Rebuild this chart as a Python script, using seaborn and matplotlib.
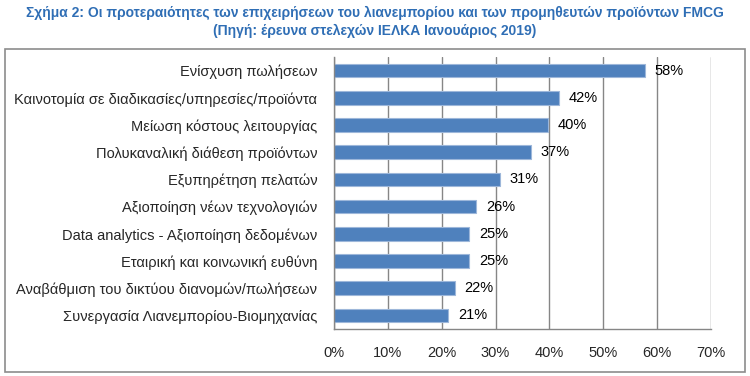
import pandas as pd
import matplotlib.pyplot as plt
import matplotlib.patches as patches
import seaborn as sns

categories = [
    "Ενίσχυση πωλήσεων",
    "Καινοτομία σε διαδικασίες/υπηρεσίες/προϊόντα",
    "Μείωση κόστους λειτουργίας",
    "Πολυκαναλική διάθεση προϊόντων",
    "Εξυπηρέτηση πελατών",
    "Αξιοποίηση νέων τεχνολογιών",
    "Data analytics - Αξιοποίηση δεδομένων",
    "Εταιρική και κοινωνική ευθύνη",
    "Αναβάθμιση του δικτύου διανομών/πωλήσεων",
    "Συνεργασία Λιανεμπορίου-Βιομηχανίας",
]
values = [57.7, 41.8, 39.8, 36.6, 30.8, 26.4, 25.1, 25.1, 22.4, 21.2]
xticks = [0, 10, 20, 30, 40, 50, 60, 70]

df = pd.DataFrame({"cat": categories, "val": values})

sns.set_style("white")
plt.rcParams["font.family"] = ["Liberation Sans", "DejaVu Sans"]

fig = plt.figure(figsize=(7.5, 3.76), dpi=100)
ax = fig.add_axes([0.4453, 0.125, 0.5027, 0.7234])

sns.barplot(data=df, x="val", y="cat", orient="h", color="#4F81BD",
            saturation=1, width=0.5, edgecolor="#9DB7DA", linewidth=0.8, ax=ax)

for i, v in enumerate(values):
    ax.text(v + 1.8, i, f"{v:.0f}%", va="center", ha="left", fontsize=10.5, color="#000000")

ax.set_xlim(0, 70)
ax.set_ylim(9.5, -0.5)
ax.set_xticks(xticks)
ax.set_xticklabels([f"{t}%" for t in xticks], fontsize=10.5)
ax.xaxis.grid(True, color="#868686", linewidth=1)
ax.set_axisbelow(True)
ax.set_xlabel("")
ax.set_ylabel("")
ax.tick_params(axis="y", labelsize=10.5, length=0, pad=12)
ax.set_yticks([i - 0.5 for i in range(11)], minor=True)
ax.tick_params(axis="y", which="minor", length=4, color="#868686", width=1)
ax.tick_params(axis="x", length=4, color="#868686", width=1, pad=8)
for s in ["top", "right"]:
    ax.spines[s].set_visible(False)
for s in ["left", "bottom"]:
    ax.spines[s].set_color("#868686")
    ax.spines[s].set_linewidth(1)

fig.text(0.5, 0.965, "Σχήμα 2: Οι προτεραιότητες των επιχειρήσεων του λιανεμπορίου και των προμηθευτών προϊόντων FMCG",
         ha="center", va="center", fontsize=10, fontweight="bold", color="#2F6EB5")
fig.text(0.5, 0.918, "(Πηγή: έρευνα στελεχών ΙΕΛΚΑ Ιανουάριος 2019)",
         ha="center", va="center", fontsize=10, fontweight="bold", color="#2F6EB5")

fig.patches.append(patches.Rectangle((5 / 750, 4 / 376), 740 / 750, 323 / 376,
                                     transform=fig.transFigure, fill=False,
                                     edgecolor="#8C8C8C", linewidth=1.2))

fig.savefig("out.png", dpi=100)
